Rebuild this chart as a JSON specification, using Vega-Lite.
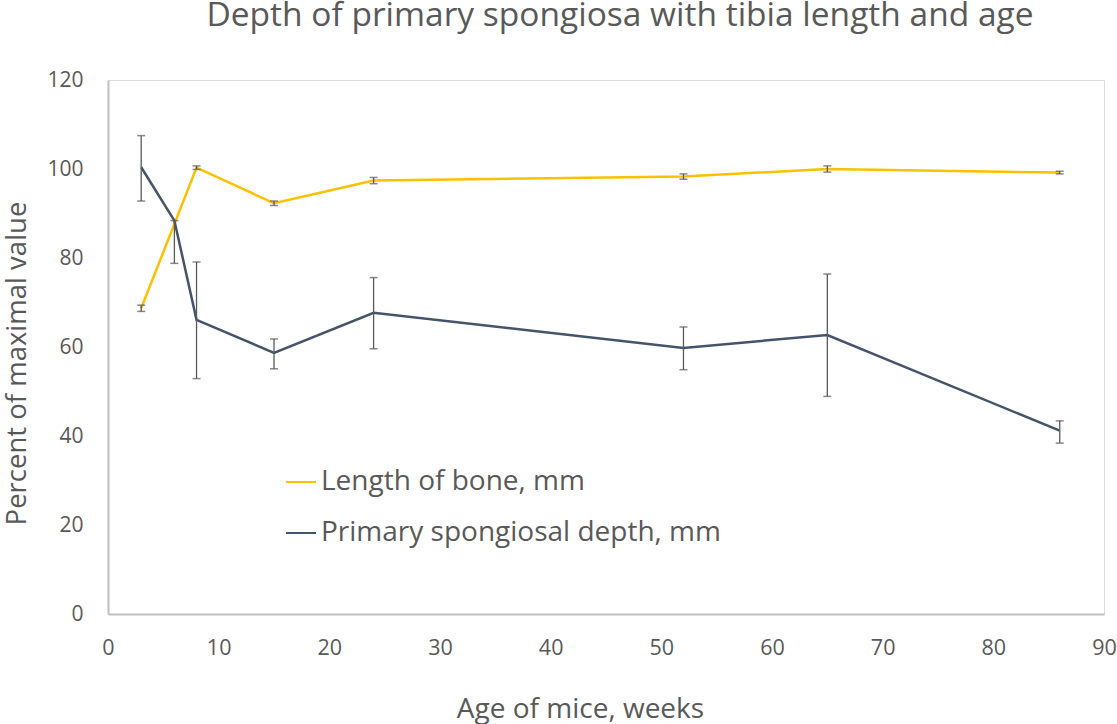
{
  "$schema": "https://vega.github.io/schema/vega-lite/v6.json",
  "autosize": "none",
  "width": 996,
  "height": 534,
  "padding": {"left": 108, "top": 80, "right": 13, "bottom": 110},
  "background": "white",
  "title": {
    "text": "Depth of primary spongiosa with tibia length and age",
    "font": "Open Sans",
    "fontSize": 33.5,
    "fontWeight": "normal",
    "color": "#595959",
    "anchor": "middle",
    "baseline": "alphabetic",
    "dx": 14,
    "dy": 16,
    "offset": 26
  },
  "data": {
    "values": [
      {"series": "Length of bone, mm", "age": 3, "value": 68.7, "lo": 68.0, "hi": 69.4},
      {"series": "Length of bone, mm", "age": 8, "value": 100.3, "lo": 99.9, "hi": 100.7},
      {"series": "Length of bone, mm", "age": 15, "value": 92.3, "lo": 91.8, "hi": 92.8},
      {"series": "Length of bone, mm", "age": 24, "value": 97.4, "lo": 96.7, "hi": 98.1},
      {"series": "Length of bone, mm", "age": 52, "value": 98.3, "lo": 97.7, "hi": 98.9},
      {"series": "Length of bone, mm", "age": 65, "value": 100.0, "lo": 99.3, "hi": 100.7},
      {"series": "Length of bone, mm", "age": 86, "value": 99.2, "lo": 98.9, "hi": 99.5},
      {"series": "Primary spongiosal depth, mm", "age": 3, "value": 100.4, "lo": 92.8, "hi": 107.5},
      {"series": "Primary spongiosal depth, mm", "age": 6, "value": 88.4, "lo": 78.8, "hi": 88.4},
      {"series": "Primary spongiosal depth, mm", "age": 8, "value": 66.1, "lo": 52.9, "hi": 79.1},
      {"series": "Primary spongiosal depth, mm", "age": 15, "value": 58.7, "lo": 55.1, "hi": 61.8},
      {"series": "Primary spongiosal depth, mm", "age": 24, "value": 67.7, "lo": 59.6, "hi": 75.6},
      {"series": "Primary spongiosal depth, mm", "age": 52, "value": 59.8, "lo": 54.9, "hi": 64.5},
      {"series": "Primary spongiosal depth, mm", "age": 65, "value": 62.7, "lo": 48.9, "hi": 76.4},
      {"series": "Primary spongiosal depth, mm", "age": 86, "value": 41.2, "lo": 38.4, "hi": 43.4}
    ]
  },
  "encoding": {
    "x": {
      "field": "age",
      "type": "quantitative",
      "scale": {"domain": [0, 90], "nice": false, "zero": false},
      "axis": {
        "title": "Age of mice, weeks",
        "values": [0, 10, 20, 30, 40, 50, 60, 70, 80, 90],
        "grid": false,
        "ticks": false,
        "tickSize": 0,
        "domainColor": "#bfbfbf",
        "domainWidth": 2,
        "labelFont": "Open Sans",
        "labelFontSize": 21.5,
        "labelColor": "#595959",
        "labelPadding": 23,
        "labelFlush": false,
        "labelOverlap": false,
        "titleFont": "Open Sans",
        "titleFontSize": 28,
        "titleFontWeight": "normal",
        "titleColor": "#595959",
        "titleBaseline": "alphabetic",
        "titleX": 472,
        "titleY": 103
      }
    }
  },
  "layer": [
    {
      "mark": {"type": "line", "strokeWidth": 2.5},
      "encoding": {
        "y": {
          "field": "value",
          "type": "quantitative",
          "scale": {"domain": [0, 120], "nice": false},
          "axis": {
            "title": "Percent of maximal value",
            "values": [0, 20, 40, 60, 80, 100, 120],
            "grid": false,
            "ticks": false,
            "tickSize": 0,
            "domainColor": "#bfbfbf",
            "domainWidth": 2,
            "labelFont": "Open Sans",
            "labelFontSize": 21,
            "labelColor": "#595959",
            "labelPadding": 25,
            "labelFlush": false,
            "titleFont": "Open Sans",
            "titleFontSize": 27.5,
            "titleFontWeight": "normal",
            "titleColor": "#595959",
            "titleAngle": -90,
            "titleAlign": "center",
            "titleBaseline": "alphabetic",
            "titleX": -83,
            "titleY": 283
          }
        },
        "color": {
          "field": "series",
          "type": "nominal",
          "scale": {
            "domain": ["Length of bone, mm", "Primary spongiosal depth, mm"],
            "range": ["#FFC000", "#44546A"]
          },
          "legend": {
            "title": null,
            "orient": "none",
            "legendX": 177,
            "legendY": 386,
            "padding": 0,
            "symbolType": "stroke",
            "symbolSize": 900,
            "symbolStrokeWidth": 2,
            "labelFont": "Open Sans",
            "labelFontSize": 28,
            "labelColor": "#595959",
            "labelOffset": 4,
            "labelLimit": 600,
            "rowPadding": 21
          }
        }
      }
    },
    {
      "mark": {"type": "rule", "color": "#595959", "strokeWidth": 1.3},
      "encoding": {
        "y": {"field": "lo", "type": "quantitative"},
        "y2": {"field": "hi"}
      }
    },
    {
      "mark": {"type": "tick", "orient": "horizontal", "color": "#595959", "size": 8, "thickness": 1.5},
      "encoding": {"y": {"field": "lo", "type": "quantitative"}}
    },
    {
      "mark": {"type": "tick", "orient": "horizontal", "color": "#595959", "size": 8, "thickness": 1.5},
      "encoding": {"y": {"field": "hi", "type": "quantitative"}}
    }
  ]
}
